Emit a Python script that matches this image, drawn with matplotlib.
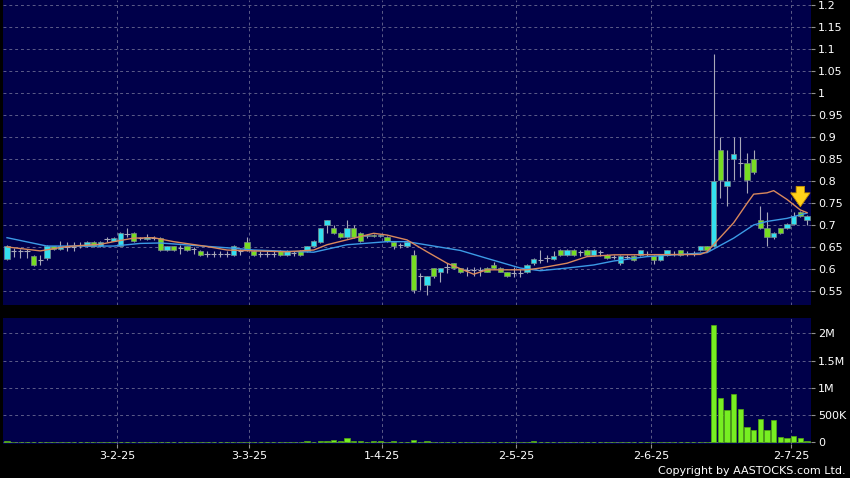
import numpy as np
import matplotlib
matplotlib.use("Agg")
from matplotlib import pyplot as plt

# daily candles, index 0 .. 120 (trading days)
opens = [0.623, 0.640, 0.640, 0.640, 0.630, 0.620, 0.624, 0.651, 0.645, 0.650,
         0.650, 0.655, 0.652, 0.662, 0.652, 0.667, 0.664, 0.653, 0.680, 0.681,
         0.670, 0.667, 0.670, 0.671, 0.643, 0.651, 0.648, 0.651, 0.645, 0.641,
         0.635, 0.635, 0.635, 0.635, 0.632, 0.640, 0.662, 0.641, 0.635, 0.635,
         0.635, 0.641, 0.632, 0.636, 0.641, 0.641, 0.651, 0.662, 0.700, 0.692,
         0.681, 0.672, 0.692, 0.681, 0.674, 0.677, 0.674, 0.672, 0.662, 0.655,
         0.652, 0.632, 0.583, 0.564, 0.601, 0.592, 0.605, 0.613, 0.601, 0.598,
         0.598, 0.598, 0.602, 0.610, 0.602, 0.592, 0.590, 0.590, 0.594, 0.613,
         0.620, 0.625, 0.622, 0.643, 0.632, 0.643, 0.638, 0.643, 0.632, 0.638,
         0.632, 0.628, 0.613, 0.628, 0.630, 0.632, 0.635, 0.630, 0.620, 0.632,
         0.635, 0.642, 0.635, 0.635, 0.642, 0.651, 0.652, 0.870, 0.789, 0.851,
         0.840, 0.840, 0.851, 0.711, 0.692, 0.672, 0.692, 0.692, 0.702, 0.730, 0.711]
highs = [0.655, 0.647, 0.645, 0.645, 0.632, 0.632, 0.655, 0.652, 0.664, 0.662,
         0.662, 0.662, 0.663, 0.663, 0.664, 0.673, 0.672, 0.683, 0.692, 0.683,
         0.672, 0.680, 0.675, 0.672, 0.653, 0.653, 0.655, 0.653, 0.650, 0.643,
         0.640, 0.640, 0.640, 0.640, 0.655, 0.645, 0.673, 0.643, 0.640, 0.640,
         0.640, 0.643, 0.643, 0.640, 0.643, 0.653, 0.665, 0.694, 0.712, 0.700,
         0.683, 0.711, 0.700, 0.683, 0.680, 0.679, 0.679, 0.674, 0.664, 0.660,
         0.664, 0.643, 0.590, 0.585, 0.603, 0.603, 0.613, 0.614, 0.603, 0.605,
         0.605, 0.605, 0.604, 0.615, 0.604, 0.594, 0.605, 0.600, 0.612, 0.625,
         0.643, 0.632, 0.640, 0.645, 0.645, 0.645, 0.643, 0.645, 0.645, 0.643,
         0.634, 0.632, 0.632, 0.632, 0.632, 0.644, 0.640, 0.632, 0.634, 0.644,
         0.640, 0.644, 0.640, 0.640, 0.653, 0.653, 1.089, 0.900, 0.870, 0.900,
         0.900, 0.863, 0.870, 0.742, 0.730, 0.683, 0.694, 0.704, 0.730, 0.732, 0.722]
lows = [0.620, 0.628, 0.625, 0.625, 0.607, 0.608, 0.620, 0.644, 0.643, 0.640,
        0.640, 0.648, 0.650, 0.650, 0.650, 0.662, 0.663, 0.652, 0.673, 0.662,
        0.665, 0.665, 0.665, 0.641, 0.641, 0.641, 0.635, 0.641, 0.635, 0.630,
        0.628, 0.628, 0.628, 0.628, 0.630, 0.632, 0.641, 0.630, 0.628, 0.628,
        0.628, 0.630, 0.630, 0.630, 0.630, 0.639, 0.649, 0.660, 0.681, 0.679,
        0.670, 0.670, 0.670, 0.662, 0.670, 0.672, 0.672, 0.662, 0.645, 0.648,
        0.650, 0.545, 0.552, 0.541, 0.580, 0.571, 0.590, 0.600, 0.590, 0.585,
        0.585, 0.585, 0.592, 0.600, 0.592, 0.582, 0.582, 0.582, 0.590, 0.610,
        0.613, 0.615, 0.620, 0.630, 0.630, 0.630, 0.630, 0.630, 0.630, 0.630,
        0.622, 0.622, 0.610, 0.622, 0.618, 0.630, 0.630, 0.612, 0.618, 0.630,
        0.630, 0.630, 0.630, 0.630, 0.640, 0.640, 0.650, 0.761, 0.742, 0.802,
        0.810, 0.772, 0.815, 0.690, 0.651, 0.668, 0.680, 0.690, 0.700, 0.718, 0.700]
closes = [0.652, 0.640, 0.640, 0.640, 0.609, 0.620, 0.651, 0.645, 0.651, 0.650,
          0.650, 0.655, 0.662, 0.652, 0.662, 0.667, 0.671, 0.681, 0.680, 0.664,
          0.670, 0.672, 0.670, 0.643, 0.651, 0.643, 0.648, 0.643, 0.645, 0.632,
          0.635, 0.635, 0.635, 0.635, 0.651, 0.640, 0.643, 0.632, 0.635, 0.635,
          0.635, 0.632, 0.641, 0.636, 0.632, 0.651, 0.663, 0.692, 0.711, 0.681,
          0.672, 0.692, 0.672, 0.664, 0.677, 0.674, 0.677, 0.664, 0.652, 0.655,
          0.662, 0.552, 0.583, 0.583, 0.583, 0.601, 0.605, 0.603, 0.594, 0.598,
          0.598, 0.598, 0.594, 0.602, 0.594, 0.584, 0.590, 0.590, 0.610, 0.623,
          0.620, 0.625, 0.630, 0.632, 0.643, 0.632, 0.638, 0.632, 0.643, 0.638,
          0.624, 0.628, 0.630, 0.628, 0.620, 0.642, 0.635, 0.620, 0.632, 0.642,
          0.635, 0.632, 0.635, 0.635, 0.651, 0.642, 0.801, 0.802, 0.801, 0.861,
          0.840, 0.802, 0.821, 0.692, 0.672, 0.681, 0.681, 0.702, 0.720, 0.720, 0.720]

# volume in thousands of shares
volume_k = [20, 3, 3, 2, 8, 2, 10, 3, 4, 2,
            2, 2, 5, 3, 4, 2, 4, 10, 2, 6,
            2, 5, 2, 8, 3, 3, 2, 3, 2, 4,
            2, 2, 10, 2, 4, 2, 6, 3, 2, 2,
            2, 3, 3, 2, 4, 20, 6, 25, 30, 40,
            15, 75, 20, 25, 10, 20, 15, 12, 15, 3,
            8, 40, 5, 15, 8, 6, 3, 5, 4, 2,
            2, 2, 5, 8, 4, 5, 2, 2, 10, 20,
            3, 2, 5, 4, 4, 4, 2, 4, 4, 2,
            4, 2, 5, 2, 3, 4, 2, 4, 3, 5,
            8, 4, 2, 2, 5, 8, 2150, 820, 590, 890,
            610, 290, 230, 420, 230, 410, 100, 70, 120, 70, 20]

# moving averages (day index, value)
ma_short_idx = [0, 5, 9, 14, 16, 19, 22, 25, 30, 33, 37, 42, 46, 48, 52, 55, 57, 60, 63,
                66, 70, 72, 78, 80, 84, 87, 91, 104, 105, 109, 111, 112, 114, 115, 117, 119, 120]
ma_short_val = [0.650, 0.641, 0.651, 0.656, 0.662, 0.670, 0.671, 0.662, 0.651, 0.643, 0.641,
                0.639, 0.643, 0.655, 0.670, 0.681, 0.677, 0.666, 0.639, 0.613, 0.588, 0.598,
                0.598, 0.602, 0.613, 0.628, 0.632, 0.633, 0.639, 0.705, 0.749, 0.770, 0.773,
                0.778, 0.758, 0.734, 0.728]
ma_long_idx = [0, 6, 16, 20, 23, 34, 37, 46, 51, 57, 60, 68, 72, 77, 80, 84, 88, 91, 96,
               105, 109, 112, 114, 117, 120]
ma_long_val = [0.671, 0.652, 0.652, 0.658, 0.659, 0.647, 0.643, 0.638, 0.655, 0.662, 0.662,
               0.642, 0.624, 0.602, 0.596, 0.602, 0.609, 0.618, 0.628, 0.637, 0.670, 0.700,
               0.708, 0.715, 0.727]

tick_pos = [16.5, 36.3, 56.3, 76.4, 96.6, 117.6]
tick_labels = ["3-2-25", "3-3-25", "1-4-25", "2-5-25", "2-6-25", "2-7-25"]
price_ticks = [0.55, 0.6, 0.65, 0.7, 0.75, 0.8, 0.85, 0.9, 0.95, 1, 1.05, 1.1, 1.15, 1.2]
vol_ticks = [0, 500, 1000, 1500, 2000]
vol_tick_labels = ["0", "500K", "1M", "1.5M", "2M"]

BG = "#00004a"
GRID = "#5c5c88"
UP = "#33e0f0"
DOWN = "#77dd22"
WICK = "#a8a8b8"

o = np.array(opens)
h = np.array(highs)
l = np.array(lows)
c = np.array(closes)
x = np.arange(len(o))

fig = plt.figure(figsize=(8.5, 4.78), dpi=100, facecolor="black")
ax = fig.add_axes([3 / 850, 1 - 305 / 478, 808 / 850, 305 / 478])
axv = fig.add_axes([3 / 850, 1 - 444 / 478, 808 / 850, 126 / 478], sharex=ax)

for a in (ax, axv):
    a.set_facecolor(BG)
    for s in a.spines.values():
        s.set_visible(False)
    a.grid(True, color=GRID, linestyle=(0, (3, 3)), linewidth=0.7)
    a.set_axisbelow(True)
    a.yaxis.tick_right()
    a.tick_params(axis="y", colors="#909090", labelcolor="white", labelsize=8,
                  length=3, pad=2)
    a.tick_params(axis="x", colors="#909090", labelcolor="white", labelsize=8,
                  length=3, pad=2)

# candles
ax.vlines(x, l, h, color=WICK, linewidth=0.8, zorder=2)
doji = o == c
ax.hlines(o[doji], x[doji] - 0.4, x[doji] + 0.4, color=WICK, linewidth=0.8, zorder=2)
body = ~doji
cols = np.where(c > o, UP, DOWN)
ax.bar(x[body], np.abs(c - o)[body], bottom=np.minimum(o, c)[body], width=0.78,
       color=cols[body], edgecolor="#7a8a8a", linewidth=0.5, zorder=3)

ax.plot(ma_long_idx, ma_long_val, color="#3c9be6", linewidth=1.0, zorder=4)
ax.plot(ma_short_idx, ma_short_val, color="#d9885c", linewidth=1.0, zorder=4)

# marker arrow over latest session
ax.annotate("", xy=(119, h[119] + 0.003), xytext=(119, h[119] + 0.062),
            arrowprops=dict(arrowstyle="simple,head_width=1.4,head_length=1.0,tail_width=0.6",
                            fc="#ffd21a", ec="#c89000", lw=0.6), zorder=5)

ax.set_ylim(0.518, 1.2114)
ax.set_yticks(price_ticks)
ax.set_yticklabels([f"{v:g}" for v in price_ticks])
ax.set_xlim(-0.6, 120.6)
ax.set_xticks(tick_pos)
ax.tick_params(axis="x", labelbottom=False, length=0)

axv.bar(x, volume_k, width=0.8, color="#77ee22", edgecolor="#55aa11", linewidth=0.5, zorder=3)
axv.set_ylim(-31, 2281)
axv.set_yticks(vol_ticks)
axv.set_yticklabels(vol_tick_labels)
axv.set_xticks(tick_pos)
axv.set_xticklabels(tick_labels)

fig.text(0.995, 0.005, "Copyright by AASTOCKS.com Ltd.", color="white", fontsize=8,
         ha="right", va="bottom")

fig.savefig("out.png", dpi=100, facecolor="black")
